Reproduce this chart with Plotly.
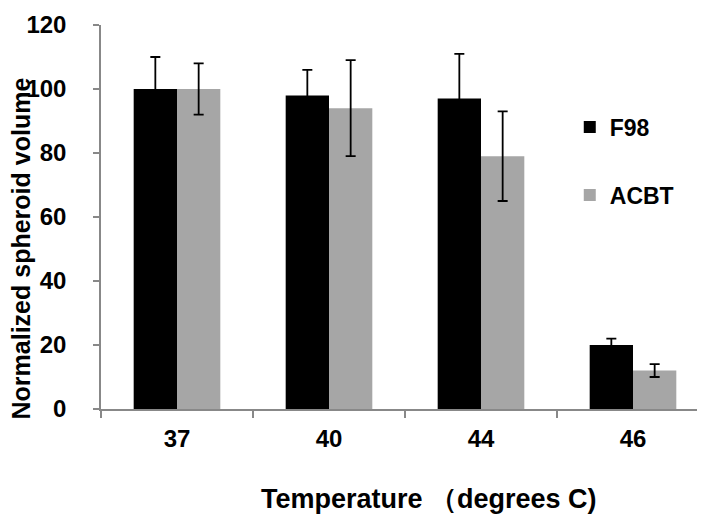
import plotly.graph_objects as go

categories = ["37", "40", "44", "46"]
f98_values = [100, 98, 97, 20]
f98_errors = [10, 8, 14, 2]
acbt_values = [100, 94, 79, 12]
acbt_errors = [8, 15, 14, 2]
y_ticks = [0, 20, 40, 60, 80, 100, 120]
x_title = "Temperature \uff08degrees C)"
y_title = "Normalized spheroid volume"

FONT = "Liberation Sans, Arial, sans-serif"

fig = go.Figure()
fig.add_trace(go.Bar(
    x=categories, y=f98_values, name="F98", legendgroup="a",
    marker=dict(color="#000000", line=dict(width=0)),
    error_y=dict(type="data", array=f98_errors, visible=True,
                 color="#000000", thickness=1.8, width=5),
))
fig.add_trace(go.Bar(
    x=categories, y=acbt_values, name="ACBT", legendgroup="b",
    marker=dict(color="#a6a6a6", line=dict(width=0)),
    error_y=dict(type="data", array=acbt_errors, visible=True,
                 color="#000000", thickness=1.8, width=5),
))

fig.update_layout(
    width=705, height=517,
    margin=dict(l=93, r=4, t=17, b=116, autoexpand=False),
    paper_bgcolor="white", plot_bgcolor="white",
    barmode="group", bargap=0.43, bargroupgap=0,
    font=dict(family=FONT, color="black", size=20),
    showlegend=True,
    legend=dict(
        x=0.771, y=0.79, xanchor="left", yanchor="top",
        font=dict(family=FONT, size=23, color="black", weight="bold"),
        traceorder="grouped", tracegroupgap=35,
        itemwidth=30, bgcolor="rgba(0,0,0,0)",
    ),
    xaxis=dict(
        showline=True, linecolor="#888888", linewidth=1.5,
        ticks="outside", tickson="boundaries", ticklen=7,
        tickcolor="#888888", tickwidth=1.5,
        tickfont=dict(family=FONT, size=24, weight="bold"),
        ticklabelstandoff=7,
        showgrid=False, automargin=False,
    ),
    yaxis=dict(
        range=[0, 120], tickvals=y_ticks,
        showline=True, linecolor="#888888", linewidth=1.5,
        ticks="outside", ticklen=6, tickcolor="#888888", tickwidth=1.5,
        tickfont=dict(family=FONT, size=24, weight="bold"),
        ticklabelstandoff=22,
        showgrid=False, zeroline=False, automargin=False,
    ),
    annotations=[
        dict(text=y_title, xref="paper", yref="paper",
             x=-0.131, y=0.419, xanchor="center", yanchor="middle",
             textangle=-90, showarrow=False,
             font=dict(family=FONT, size=25, weight="bold", color="black")),
        dict(text=x_title, xref="paper", yref="paper",
             x=0.54, y=-0.235, xanchor="center", yanchor="middle",
             showarrow=False,
             font=dict(family=FONT, size=27, weight="bold", color="black")),
    ],
)

fig.write_html("out.html")
